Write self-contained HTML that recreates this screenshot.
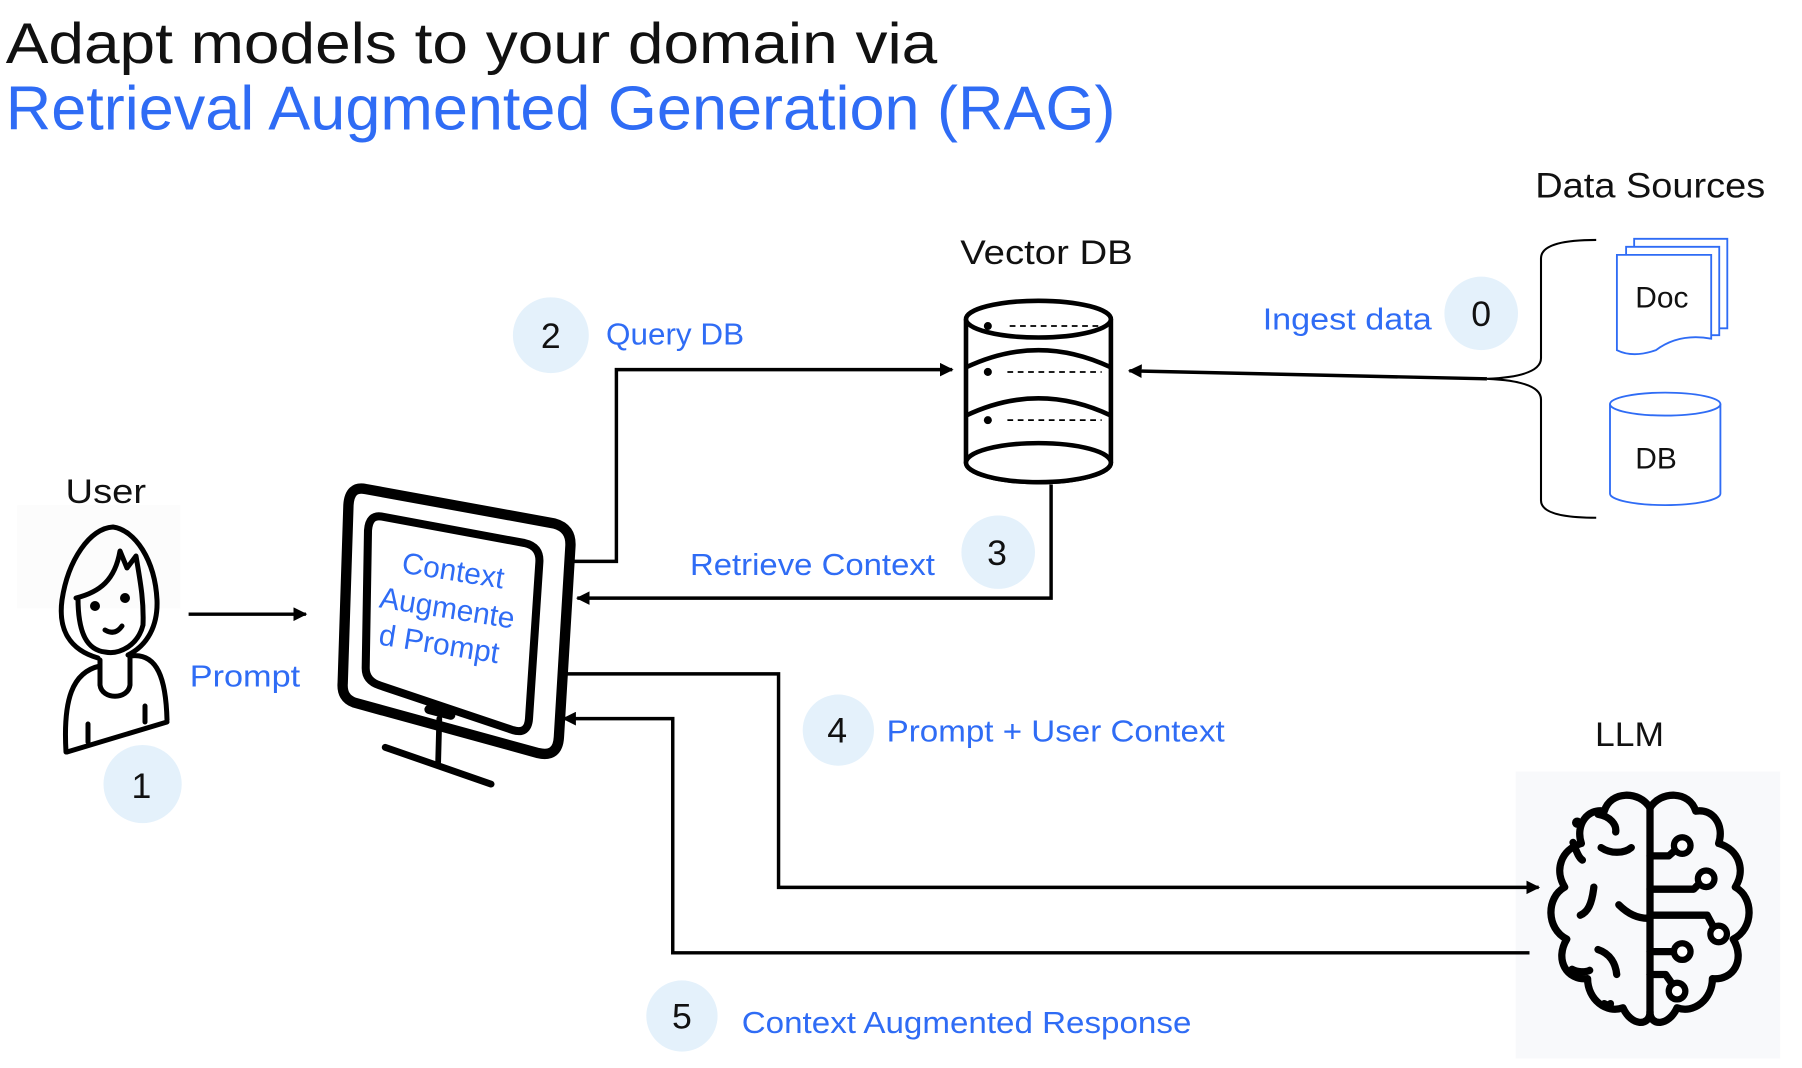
<!DOCTYPE html>
<html><head><meta charset="utf-8"><style>
html,body{margin:0;padding:0;background:#fff;}
svg{display:block;}
text{font-family:"Liberation Sans",sans-serif;}
</style></head><body>
<svg width="1802" height="1068" viewBox="0 0 1802 1068" xmlns="http://www.w3.org/2000/svg">
<defs>
<marker id="ah" viewBox="0 0 10 10" refX="9" refY="5" markerWidth="4" markerHeight="4" orient="auto"><path d="M0,0 L10,5 L0,10 Z" fill="#000"/></marker>
</defs>
<rect width="1802" height="1068" fill="#fff"/>
<g transform="scale(1.15,1.148)">
  <rect x="15" y="440" width="142" height="90" fill="#fcfcfc"/>
  <rect x="1318" y="672" width="230" height="250" fill="#f8f9fb"/>
  <text x="5" y="55" font-size="50" fill="#111" textLength="810" lengthAdjust="spacingAndGlyphs">Adapt models to your domain via</text>
  <text x="5" y="113" font-size="54" fill="#2f6cf5" textLength="965" lengthAdjust="spacingAndGlyphs">Retrieval Augmented Generation (RAG)</text>
  <text x="1335" y="172" font-size="31" fill="#111" textLength="200" lengthAdjust="spacingAndGlyphs">Data Sources</text>
  <text x="835" y="230" font-size="30" fill="#111" textLength="150" lengthAdjust="spacingAndGlyphs">Vector DB</text>
  <text x="57" y="438" font-size="30" fill="#111" textLength="70" lengthAdjust="spacingAndGlyphs">User</text>
  <text x="1387" y="650" font-size="30" fill="#111" textLength="60" lengthAdjust="spacingAndGlyphs">LLM</text>
  <g fill="#e4f1fb">
    <circle cx="479" cy="292" r="33"/><circle cx="1288" cy="273" r="32"/>
    <circle cx="868" cy="481" r="32"/><circle cx="729" cy="636" r="31"/>
    <circle cx="124" cy="683" r="34"/><circle cx="593" cy="885" r="31"/>
  </g>
  <g font-size="31" fill="#111" text-anchor="middle">
    <text x="479" y="303">2</text><text x="1288" y="284">0</text>
    <text x="867" y="492">3</text><text x="728" y="647">4</text>
    <text x="123" y="695">1</text><text x="593" y="896">5</text>
  </g>
  <g font-size="27" fill="#2f6cf5">
    <text x="527" y="300" textLength="120" lengthAdjust="spacingAndGlyphs">Query DB</text>
    <text x="1098" y="287" textLength="147" lengthAdjust="spacingAndGlyphs">Ingest data</text>
    <text x="600" y="501" textLength="213" lengthAdjust="spacingAndGlyphs">Retrieve Context</text>
    <text x="771" y="646" textLength="294" lengthAdjust="spacingAndGlyphs">Prompt + User Context</text>
    <text x="645" y="900" textLength="391" lengthAdjust="spacingAndGlyphs">Context Augmented Response</text>
    <text x="165" y="598" textLength="96" lengthAdjust="spacingAndGlyphs">Prompt</text>
  </g>
  <g fill="none" stroke="#000" stroke-width="3">
    <path d="M164,535 L266,535" marker-end="url(#ah)"/>
    <path d="M497,489 L536,489 L536,322 L828,322" marker-end="url(#ah)"/>
    <path d="M914,422 L914,521 L502,521" marker-end="url(#ah)"/>
    <path d="M1293,330 L982,323" marker-end="url(#ah)"/>
    <path d="M490,587 L677,587 L677,773 L1338,773" marker-end="url(#ah)"/>
    <path d="M1330,830 L585,830 L585,626 L490,626" marker-end="url(#ah)"/>
  </g>
  <g fill="#fff" stroke="#000" stroke-width="4">
    <path d="M840,278 L840,403 A63,17 0 0 0 966,403 L966,278"/>
    <ellipse cx="903" cy="278" rx="63" ry="16"/>
    <path d="M840,320 Q903,290 966,320" fill="none"/>
    <path d="M840,362 Q903,332 966,362" fill="none"/>
    <ellipse cx="903" cy="403" rx="63" ry="17"/>
  </g>
  <g fill="#000"><circle cx="859" cy="284" r="3.5"/><circle cx="859" cy="324" r="3.5"/><circle cx="859" cy="366" r="3.5"/></g>
  <g stroke="#000" stroke-width="1.5" stroke-dasharray="5,4">
    <path d="M878,284 L960,284"/><path d="M876,324 L958,324"/><path d="M876,366 L958,366"/>
  </g>
  <path d="M1388,209 Q1340,209 1340,225 L1340,312 Q1340,328 1293,330 Q1340,332 1340,348 L1340,436 Q1340,451 1388,451" fill="none" stroke="#000" stroke-width="1.8"/>
  <g fill="#fff" stroke="#2f6cf5" stroke-width="1.6">
    <path d="M1421,208 L1502,208 L1502,286 L1421,286 Z"/>
    <path d="M1414,215 L1495,215 L1495,292 L1414,292 Z"/>
    <path d="M1406,222 L1488,222 L1488,295 Q1460,290 1440,305 Q1420,312 1406,305 Z"/>
  </g>
  <text x="1422" y="268" font-size="26" fill="#111">Doc</text>
  <g fill="#fff" stroke="#2f6cf5" stroke-width="1.6">
    <path d="M1400,352 L1400,430 A48,10 0 0 0 1496,430 L1496,352"/>
    <ellipse cx="1448" cy="352" rx="48" ry="10"/>
  </g>
  <text x="1422" y="408" font-size="26" fill="#111">DB</text>
  <g fill="none" stroke="#000" stroke-linejoin="round" stroke-linecap="round">
    <path d="M318,426 L482,456 Q497,460 496,476 L486,642 Q485,660 468,656 L308,612 Q297,608 298,595 L303,440 Q304,423 318,426 Z" stroke-width="9" fill="#fff"/>
    <path d="M332,450 L456,473 Q470,476 469,490 L460,626 Q459,640 446,636 L330,597 Q318,593 318,582 L320,462 Q321,448 332,450 Z" stroke-width="7"/>
    <path d="M373,618 L392,623" stroke-width="8"/>
    <path d="M382,626 L381,664" stroke-width="5"/>
    <path d="M335,651 L427,683" stroke-width="6"/>
  </g>
  <g fill="#2f6cf5" font-size="26" text-anchor="middle" transform="rotate(9 386 535)">
    <text x="388" y="505">Context</text>
    <text x="388" y="538">Augmente</text>
    <text x="386" y="570">d Prompt</text>
  </g>
</g>
<g fill="none" stroke="#000" stroke-width="5" stroke-linecap="round" stroke-linejoin="round">
  <path d="M113,527 C90,528 68,560 62,600 C58,630 70,650 98,658 M113,527 C135,530 155,560 157,600 C158,625 148,645 128,655"/>
  <path d="M76,598 C100,592 115,580 120,551 L127,568 L136,556 C140,580 144,600 143,625 C138,645 120,655 105,652 C88,650 78,635 78,598"/>
  <path d="M100,660 L100,685 C102,700 128,700 130,685 L130,656"/>
  <path d="M100,666 C72,672 63,700 66,752 M130,656 C158,652 166,680 167,720 M67,752 L167,722"/>
  <path d="M88,724 L88,742 M145,706 L145,722"/>
  <path d="M105,630 Q115,636 122,626"/>
</g>
<circle cx="95" cy="606" r="5" fill="#000"/><circle cx="125" cy="598" r="5" fill="#000"/>
<g transform="translate(1650,910) scale(1.04) translate(-1650,-910)">
<g fill="none" stroke="#000" stroke-width="7" stroke-linecap="round" stroke-linejoin="round">
  <path d="M1650,812 C1640,795 1612,795 1606,815 C1590,812 1578,828 1584,846 C1564,852 1558,872 1568,888 C1550,898 1550,928 1570,938 C1558,958 1570,978 1590,976 C1590,996 1608,1010 1624,1004 C1632,1022 1650,1022 1650,1008"/>
  <path d="M1650,812 C1660,795 1688,795 1694,815 C1710,812 1722,828 1716,846 C1736,852 1742,872 1732,888 C1750,898 1750,928 1730,938 C1742,958 1730,978 1710,976 C1710,996 1692,1010 1676,1004 C1668,1022 1650,1022 1650,1008"/>
  <path d="M1650,812 L1650,1008"/>
  <path d="M1650,858 L1668,858 L1677,850 M1650,890 L1692,890 L1700,882 M1650,915 L1705,915 L1712,928 M1650,950 L1675,950 M1650,972 L1665,972 L1672,982"/>
  <path d="M1600,818 C1612,820 1618,828 1617,835 M1603,850 C1612,856 1625,856 1632,850 M1576,845 C1580,856 1582,860 1585,862 M1596,888 C1594,905 1590,912 1583,915 M1620,905 C1630,915 1640,918 1648,918 M1600,948 C1612,952 1617,962 1618,972 M1575,967 C1580,970 1588,970 1592,968 M1606,1000 C1610,1002 1612,1002 1612,1000"/>
</g>
<g fill="#fff" stroke="#000" stroke-width="6">
  <circle cx="1681" cy="848" r="8"/><circle cx="1704" cy="880" r="8"/><circle cx="1716" cy="933" r="8"/><circle cx="1681" cy="950" r="8"/><circle cx="1676" cy="988" r="8"/>
</g>
<circle cx="1580" cy="826" r="5" fill="#000"/>
</g>
</svg>
</body></html>
